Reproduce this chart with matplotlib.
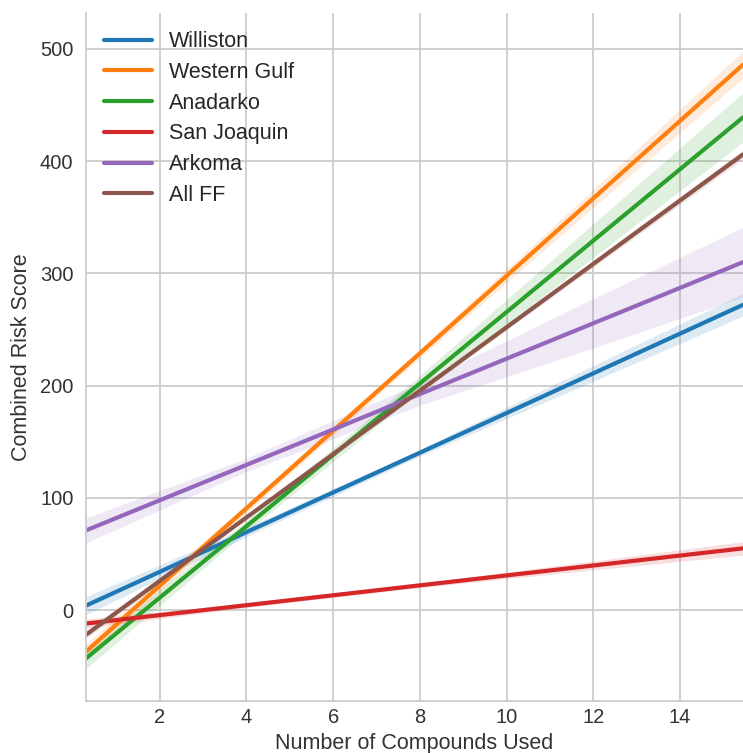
import numpy as np
import matplotlib
matplotlib.use('Agg')
import matplotlib.pyplot as plt
import seaborn as sns

sns.set_style('whitegrid')
plt.rcParams['font.family'] = ['Liberation Sans', 'DejaVu Sans']

# fitted line ends (x from 0.3 to 15.45) and CI half widths along x
basins = ['Williston', 'Western Gulf', 'Anadarko', 'San Joaquin', 'Arkoma', 'All FF']
x_ends = [0.3, 15.45]
y_start = [4, -37, -43, -12, 71, -22]
y_end = [272, 486, 439, 55, 310, 406]
ci_x = [0.3, 4, 8, 12, 15.45]
ci_half = [
    [8, 4, 3, 7, 10],       # Williston
    [7, 4, 4, 8, 12],       # Western Gulf
    [9, 5, 7, 15, 22],      # Anadarko
    [4, 2, 2, 4, 6],        # San Joaquin
    [11, 6, 10, 22, 31],    # Arkoma
    [3, 2, 2, 3, 4],        # All FF
]
colors = sns.color_palette('tab10', 6)

fig = plt.figure(figsize=(7.43, 7.53), dpi=100)
ax = fig.add_axes([86 / 743, 1 - 701 / 753, 1 - 86 / 743, (701 - 13) / 753])

for i, name in enumerate(basins):
    cx = np.array(ci_x)
    cy = np.interp(cx, x_ends, [y_start[i], y_end[i]])
    hw = np.array(ci_half[i])
    ax.fill_between(cx, cy - hw, cy + hw, color=colors[i], alpha=0.15, lw=0)
    ax.plot(x_ends, [y_start[i], y_end[i]], color=colors[i], lw=3, label=name)

ax.set_xlim(0.3, 15.45)
ax.set_ylim(-81, 532)
ax.set_xticks([2, 4, 6, 8, 10, 12, 14])
ax.set_yticks([0, 100, 200, 300, 400, 500])
ax.tick_params(labelsize=14.5, colors='#333333', length=0)
ax.tick_params(axis='x', pad=5)
ax.tick_params(axis='y', pad=9)
ax.set_xlabel('Number of Compounds Used', fontsize=15.5, color='#333333', labelpad=4)
ax.set_ylabel('Combined Risk Score', fontsize=15.5, color='#333333', labelpad=6)
ax.grid(color='#cccccc', lw=1.3)
for s in ['top', 'right']:
    ax.spines[s].set_visible(False)
for s in ['left', 'bottom']:
    ax.spines[s].set_color('#cccccc')
    ax.spines[s].set_linewidth(1.3)

ax.legend(loc='upper left', frameon=False, fontsize=15.5, handlelength=2.2,
          labelspacing=0.45, borderaxespad=0.45)

fig.savefig('out.png', dpi=100)
